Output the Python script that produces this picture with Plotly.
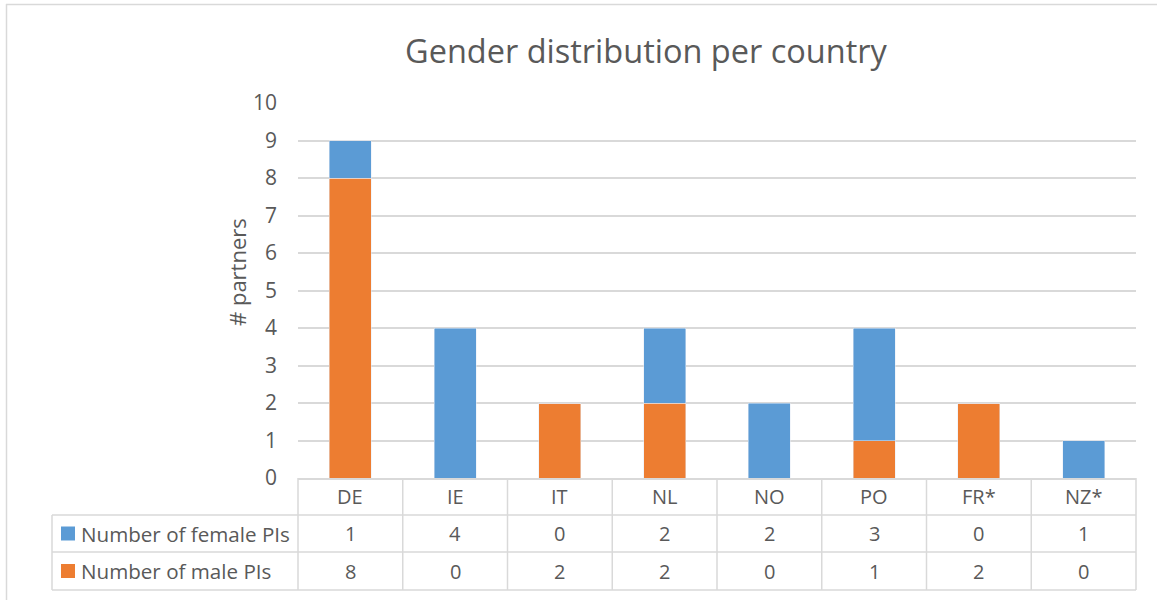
import plotly.graph_objects as go

countries = ["DE", "IE", "IT", "NL", "NO", "PO", "FR*", "NZ*"]
female = [1, 4, 0, 2, 2, 3, 0, 1]
male = [8, 0, 2, 2, 0, 1, 2, 0]
series_names = ["Number of female PIs", "Number of male PIs"]
title_text = "Gender distribution per country"
y_title = "# partners"

BLUE = "#5B9BD5"
ORANGE = "#ED7D31"
GRID = "#D9D9D9"
TXT = "#595959"
FONT = "Open Sans"

W, H = 1157, 600
L, R, T, B = 298, 1136, 103, 478  # plot area in pixels


def px(x):
    return (x - L) / (R - L)


def py(y):
    return (B - y) / (B - T)


fig = go.Figure()
fig.add_trace(go.Bar(x=countries, y=male, name=series_names[1], marker_color=ORANGE, width=0.4))
fig.add_trace(go.Bar(x=countries, y=female, name=series_names[0], marker_color=BLUE, width=0.4))

shapes = []
annots = []
n = len(countries)
cw = (R - L) / n
row_y = [478, 515, 552, 590]
tbl_left = 52

for yy in row_y[1:]:
    shapes.append(dict(type="line", xref="paper", yref="paper", x0=px(tbl_left), x1=px(R),
                       y0=py(yy), y1=py(yy), line=dict(color=GRID, width=1.5)))
for i in range(n + 1):
    xx = L + i * cw
    shapes.append(dict(type="line", xref="paper", yref="paper", x0=px(xx), x1=px(xx),
                       y0=py(478), y1=py(590), line=dict(color=GRID, width=1.5)))
shapes.append(dict(type="line", xref="paper", yref="paper", x0=px(tbl_left), x1=px(tbl_left),
                   y0=py(515), y1=py(590), line=dict(color=GRID, width=1.5)))

# outer chart border (top and left)
shapes.append(dict(type="line", xref="paper", yref="paper", x0=px(6), x1=px(W + 5),
                   y0=py(4.5), y1=py(4.5), line=dict(color=GRID, width=1.5)))
shapes.append(dict(type="line", xref="paper", yref="paper", x0=px(6.5), x1=px(6.5),
                   y0=py(4), y1=py(H + 5), line=dict(color=GRID, width=1.5)))

TF = dict(family=FONT, size=20, color=TXT)
LF = dict(family=FONT, size=20.6, color=TXT)
for j, col in enumerate([BLUE, ORANGE]):
    yc = (row_y[j + 1] + row_y[j + 2]) / 2
    shapes.append(dict(type="rect", xref="paper", yref="paper", x0=px(61), x1=px(75),
                       y0=py(yc + 7), y1=py(yc - 7), fillcolor=col, line=dict(width=0)))
    annots.append(dict(text=series_names[j], xref="paper", yref="paper", x=px(79), y=py(yc),
                       xanchor="left", yanchor="middle", showarrow=False, font=LF))

for i, c in enumerate(countries):
    xc = px(L + (i + 0.5) * cw)
    for val, yy in ((c, 496.5), (str(female[i]), 533.5), (str(male[i]), 571)):
        annots.append(dict(text=val, xref="paper", yref="paper", x=xc, y=py(yy),
                           xanchor="center", yanchor="middle", showarrow=False, font=TF))

annots.append(dict(text=title_text, xref="paper", yref="paper", x=px(646.5), y=py(50),
                   xanchor="center", yanchor="middle", showarrow=False,
                   font=dict(family=FONT, size=32.5, color=TXT)))
annots.append(dict(text=y_title, xref="paper", yref="paper", x=px(237), y=py(272),
                   xanchor="center", yanchor="middle", showarrow=False, textangle=-90,
                   font=dict(family=FONT, size=22, color=TXT)))

fig.update_layout(
    width=W, height=H,
    margin=dict(l=L, r=W - R, t=T, b=H - B),
    barmode="stack",
    showlegend=False,
    plot_bgcolor="white", paper_bgcolor="white",
    shapes=shapes, annotations=annots,
    font=dict(family=FONT, color=TXT),
    xaxis=dict(showticklabels=False, showline=True, linecolor=GRID, linewidth=1.5,
               showgrid=False, ticks=""),
    yaxis=dict(range=[0, 10], dtick=1, showgrid=True, gridcolor=GRID, gridwidth=1.5,
               zeroline=False, showline=False, ticks="", ticklen=0, ticklabelstandoff=20,
               tickfont=dict(family=FONT, size=21, color=TXT)),
)

fig.write_html("out.html", config={"displayModeBar": False},
               post_script="document.body.style.margin='0';document.body.style.padding='0';")
